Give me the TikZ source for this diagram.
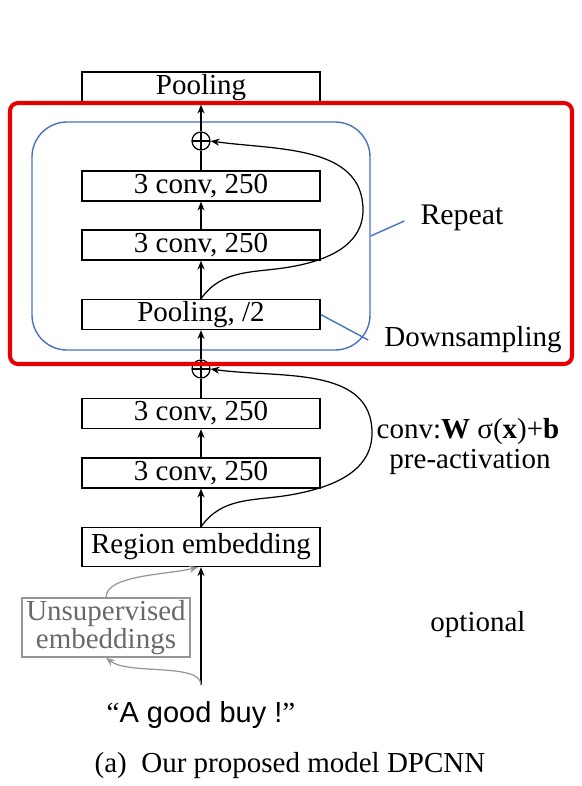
\documentclass[tikz,border=0pt]{standalone}
\usepackage{fontspec}
\setmainfont{Liberation Serif}
\setsansfont{Liberation Sans}
\usepackage{tikz}
\usetikzlibrary{arrows.meta,positioning,calc}
\definecolor{clrRed}{RGB}{232,0,0}
\definecolor{clrRep}{RGB}{72,114,190}
\definecolor{clrOpt}{RGB}{150,150,150}
\definecolor{clrOptT}{RGB}{105,105,105}
\tikzset{
  layer/.style={rectangle,draw=black,line width=0.8pt,minimum width=4.76cm,
    minimum height=0.6cm,inner sep=0pt},
  sumnode/.style={circle,draw=black,line width=0.7pt,minimum size=0.36cm,inner sep=0pt,
    path picture={\draw[line width=0.7pt]
      (path picture bounding box.north) -- (path picture bounding box.south)
      (path picture bounding box.west) -- (path picture bounding box.east);}},
  arrow/.style={-{Stealth[length=5pt,width=4pt]},line width=0.7pt},
  callout/.style={draw=clrRep,line width=0.8pt}
}

\begin{document}
\begin{tikzpicture}[
    x=1cm,y=1cm,
    font=\rmfamily\fontsize{16.5}{19}\selectfont,
    optbox/.style={draw=clrOpt,text=clrOptT,line width=0.8pt,align=center,
      minimum width=3.36cm,minimum height=1.18cm,inner sep=0pt,
      font=\rmfamily\fontsize{16.5}{15.5}\selectfont},
    frame/.style={rounded corners=0.16cm,draw=clrRed,line width=2.3pt}
]
\useasboundingbox (0,0) rectangle (11.64,-15.72);

% Main column of layers, top to bottom.
\node[layer,minimum height=0.64cm] (pooltop) at (4.02,-1.76) {Pooling};
\node[sumnode] (sumA) at (4.02,-2.82) {};
\node[layer] (convA) at (4.02,-3.72) {3 conv, 250};
\node[layer] (convB) at (4.02,-4.90) {3 conv, 250};
\node[layer] (poolhalf) at (4.02,-6.29) {Pooling, /2};
\node[sumnode] (sumB) at (4.02,-7.38) {};
\node[layer] (convC) at (4.02,-8.27) {3 conv, 250};
\node[layer] (convD) at (4.02,-9.46) {3 conv, 250};
\node[layer,minimum height=0.78cm] (region) at (4.02,-10.94) {Region embedding};

% Input text and the optional side branch.
\coordinate (src) at (4.02,-13.70);
\node (sent) at (4.02,-14.30) {``\textsf{A good buy !}''};
\node[optbox] (unsup) at (2.12,-12.55) {Unsupervised\\embeddings};

% Repeated block.
\node[draw=clrRep,line width=0.8pt,rounded corners=0.7cm,
  minimum width=6.76cm,minimum height=4.56cm] (block) at (4.02,-4.72) {};

% Forward connections.
\draw[arrow] (sumA) -- (pooltop);
\draw[line width=0.7pt] (convA) -- (sumA);
\draw[arrow] (convB) -- (convA);
\draw[arrow] (poolhalf) -- (convB);
\draw[arrow] (sumB) -- (poolhalf);
\draw[line width=0.7pt] (convC) -- (sumB);
\draw[arrow] (convD) -- (convC);
\draw[arrow] (region) -- (convD);
\draw[arrow] (src) -- (region.south);

% Shortcut connections.
\draw[arrow] (poolhalf.north) to[out=55,in=190] ++(1.8,0.64)
  to[out=10,in=-90] (7.26,-4.2) to[out=90,in=-8] (sumA.east);
\draw[arrow] (region.north) to[out=55,in=190] ++(1.8,0.64)
  to[out=10,in=-90] (7.44,-8.66) to[out=90,in=-8] (sumB.east);

% Optional pre-trained embeddings.
\draw[arrow,clrOpt] (src) .. controls +(0,0.45) and +(0.45,-0.35) .. (unsup.south);
\draw[arrow,clrOpt] (unsup.north) .. controls +(0,0.45) and +(-0.6,-0.15)
  .. ([xshift=-0.06cm]region.south);

% Side labels.
\node (repeat) at (9.24,-4.36) {\fontsize{17}{19}\selectfont Repeat};
\node (down) at (9.46,-6.80) {Downsampling};
\draw[callout] (block.east) -- ($(repeat.west)+(-0.2,-0.06)$);
\draw[callout] (poolhalf.east) -- ($(down.west)+(-0.2,0)$);
\node (convlbl) at (9.36,-8.64) {conv:\textbf{W} σ(\textbf{x})+\textbf{b}};
\node (preact) at (9.40,-9.24) {pre-activation};
\node (optlbl) at (9.56,-12.50) {optional};

\node[frame,minimum width=11.24cm,minimum height=5.22cm] (focus) at (5.82,-4.67) {};

\node (caption) at (5.80,-15.32) {(a)~ Our proposed model DPCNN};
\end{tikzpicture}
\end{document}
